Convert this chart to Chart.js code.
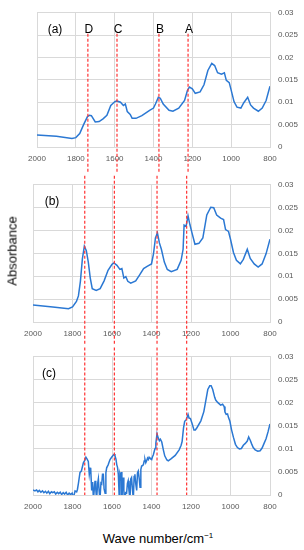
<!DOCTYPE html>
<html>
<head>
<meta charset="utf-8">
<script src="https://cdn.jsdelivr.net/npm/chart.js@4/dist/chart.umd.min.js"></script>
<style>
    body { margin: 0; background: #fff; }
    #wrap { position: relative; width: 304px; height: 550px; overflow: hidden; font-family: "Liberation Sans", Arial, sans-serif; }
    canvas { position: absolute; left: 0; }
    #ylab { position: absolute; left: 12px; top: 251px; transform: translate(-50%, -50%) rotate(-90deg); font-size: 13px; color: #000; white-space: nowrap; }
    #xlab { position: absolute; left: 158px; top: 538px; transform: translate(-50%, -50%); font-size: 13px; color: #000; white-space: nowrap; }
    #xlab sup { font-size: 8px; vertical-align: 5px; line-height: 0; }
</style>
</head>
<body>
<div id="wrap">
    <canvas id="panelA" width="304" height="172" style="top:0"></canvas>
    <canvas id="panelB" width="304" height="172" style="top:172px"></canvas>
    <canvas id="panelC" width="304" height="172" style="top:344px"></canvas>
    <div id="ylab">Absorbance</div>
    <div id="xlab">Wave number/cm<sup>−1</sup></div>
</div>
<script>
// tick labels and marker bands
const xTicks = [2000, 1800, 1600, 1400, 1200, 1000, 800];
const yTicks = [0, 0.005, 0.01, 0.015, 0.02, 0.025, 0.03];
const markerNames = ['D', 'C', 'B', 'A'];
const markerWaves = [1738, 1588, 1372, 1222];

// spectrum (a)
const waveA = [2000, 1900, 1820, 1800, 1780, 1760, 1740, 1730, 1720, 1700, 1680, 1660, 1640, 1620, 1600, 1590, 1570, 1555, 1545, 1535, 1520, 1510, 1490, 1460, 1420, 1400, 1390, 1375, 1365, 1350, 1320, 1300, 1270, 1240, 1225, 1215, 1200, 1185, 1160, 1140, 1120, 1100, 1085, 1070, 1050, 1035, 1025, 1010, 1000, 985, 970, 950, 935, 915, 900, 885, 860, 840, 820, 800];
const absA = [0.0027, 0.0024, 0.0019, 0.0021, 0.003, 0.005, 0.0068, 0.0071, 0.007, 0.0056, 0.0057, 0.0063, 0.0071, 0.0093, 0.0101, 0.0103, 0.01, 0.0093, 0.0096, 0.0079, 0.0073, 0.0064, 0.0064, 0.007, 0.0082, 0.0087, 0.0096, 0.0111, 0.0109, 0.0096, 0.0082, 0.008, 0.0087, 0.0104, 0.0127, 0.0134, 0.013, 0.012, 0.0123, 0.0139, 0.0171, 0.0187, 0.0182, 0.0166, 0.0163, 0.0166, 0.0149, 0.0144, 0.0127, 0.0101, 0.0089, 0.0087, 0.0099, 0.0111, 0.0094, 0.0087, 0.008, 0.0087, 0.0104, 0.0136];

// spectrum (b)
const waveB = [2000, 1900, 1820, 1800, 1780, 1770, 1760, 1750, 1740, 1730, 1720, 1710, 1700, 1680, 1660, 1640, 1620, 1600, 1590, 1575, 1560, 1550, 1540, 1530, 1520, 1505, 1480, 1460, 1440, 1420, 1400, 1390, 1380, 1370, 1360, 1350, 1335, 1320, 1300, 1270, 1250, 1240, 1235, 1225, 1215, 1205, 1195, 1180, 1160, 1140, 1120, 1100, 1085, 1070, 1050, 1035, 1025, 1010, 1000, 985, 970, 950, 935, 915, 900, 880, 860, 840, 820, 800];
const absB = [0.0037, 0.0033, 0.0029, 0.0033, 0.0045, 0.0057, 0.0089, 0.0138, 0.0166, 0.0156, 0.0131, 0.0096, 0.0073, 0.0069, 0.0073, 0.009, 0.0113, 0.0126, 0.0129, 0.0124, 0.0115, 0.0117, 0.0096, 0.0099, 0.0089, 0.0085, 0.009, 0.0103, 0.0117, 0.0122, 0.0127, 0.0149, 0.0184, 0.0195, 0.0173, 0.0159, 0.0131, 0.0115, 0.011, 0.0115, 0.0135, 0.0159, 0.0212, 0.0209, 0.0232, 0.0212, 0.0195, 0.017, 0.0172, 0.0184, 0.0234, 0.0251, 0.025, 0.0234, 0.0227, 0.0224, 0.0202, 0.0198, 0.0181, 0.0152, 0.0135, 0.0127, 0.0137, 0.0159, 0.0139, 0.0127, 0.012, 0.0127, 0.0149, 0.0181];

// spectrum (c)
const waveC = [2000, 1990, 1982, 1975, 1968, 1960, 1952, 1945, 1937, 1930, 1922, 1915, 1907, 1900, 1892, 1885, 1877, 1870, 1862, 1855, 1847, 1840, 1832, 1825, 1817, 1810, 1802, 1795, 1787, 1779, 1775, 1770, 1762, 1755, 1745, 1738, 1732, 1726, 1720, 1715, 1711, 1708, 1703, 1698, 1694, 1686, 1682, 1678, 1673, 1669, 1665, 1661, 1656, 1652, 1648, 1644, 1640, 1635, 1631, 1627, 1619, 1615, 1610, 1602, 1593, 1588, 1585, 1580, 1576, 1572, 1568, 1563, 1560, 1556, 1553, 1550, 1547, 1543, 1540, 1536, 1531, 1526, 1522, 1518, 1514, 1509, 1505, 1501, 1496, 1492, 1488, 1484, 1480, 1475, 1471, 1467, 1462, 1458, 1454, 1450, 1445, 1441, 1437, 1433, 1429, 1425, 1420, 1416, 1412, 1408, 1403, 1399, 1395, 1391, 1386, 1382, 1378, 1372, 1366, 1360, 1355, 1348, 1340, 1333, 1322, 1315, 1300, 1280, 1260, 1250, 1245, 1238, 1232, 1225, 1220, 1215, 1210, 1203, 1195, 1185, 1178, 1170, 1150, 1135, 1125, 1115, 1105, 1098, 1090, 1080, 1075, 1065, 1050, 1040, 1032, 1028, 1022, 1015, 1010, 1003, 995, 985, 975, 965, 955, 945, 935, 925, 915, 908, 900, 893, 885, 875, 862, 850, 840, 830, 820, 810, 800];
const absC = [0.0011, 0.0009, 0.0011, 0.0007, 0.001, 0.0006, 0.0009, 0.0005, 0.0008, 0.0004, 0.0008, 0.0003, 0.0007, 0.0005, 0.0007, 0.0002, 0.0006, 0.0003, 0.0006, 0.0001, 0.0005, 0.0002, 0.0006, 0.0, 0.0004, 0.0001, 0.0004, -0.0006, 0.0009, 0.0007, 0.0012, 0.0025, 0.0049, 0.0052, 0.007, 0.0075, 0.0082, 0.0078, 0.0073, 0.0045, 0.0058, 0.0059, 0.001, 0.0028, -0.001, 0.0031, 0.0012, -0.001, 0.0024, 0.0035, 0.0008, -0.001, 0.0026, 0.0024, 0.0045, 0.0045, 0.0013, 0.0004, 0.0048, 0.0059, 0.0066, 0.0071, 0.0077, 0.0082, 0.0087, 0.0089, 0.0085, 0.0078, 0.0066, 0.006, 0.0045, -0.001, 0.0045, 0.0038, 0.005, -0.002, 0.002, 0.0038, 0.001, -0.002, 0.0005, 0.0004, 0.0025, 0.0031, 0.001, -0.001, 0.0035, 0.0038, 0.001, -0.001, 0.004, 0.0045, 0.0025, 0.001, 0.0048, 0.0052, 0.0035, 0.0017, 0.0055, 0.0063, 0.0064, 0.0066, 0.0074, 0.0077, 0.007, 0.0074, 0.008, 0.0077, 0.0082, 0.008, 0.0079, 0.0077, 0.0083, 0.0087, 0.0095, 0.0101, 0.0112, 0.0133, 0.0124, 0.0118, 0.0121, 0.0115, 0.0098, 0.0085, 0.0076, 0.0074, 0.0079, 0.0086, 0.0098, 0.0108, 0.0116, 0.0145, 0.016, 0.0163, 0.0168, 0.0175, 0.0167, 0.0166, 0.0156, 0.0141, 0.0141, 0.0146, 0.0161, 0.0181, 0.0205, 0.0229, 0.0237, 0.0237, 0.0229, 0.0212, 0.0206, 0.0201, 0.0195, 0.0197, 0.0192, 0.018, 0.0175, 0.0176, 0.0168, 0.016, 0.0142, 0.0125, 0.011, 0.0103, 0.01, 0.0101, 0.0108, 0.0112, 0.0117, 0.0126, 0.0119, 0.0111, 0.0103, 0.0098, 0.0095, 0.0096, 0.0102, 0.0112, 0.0122, 0.0137, 0.0154];

const gridGray = '#d9d9d9';
const tickGray = '#595959';
const curveBlue = '#2b78d3';
const markerRed = '#ff3333';

// writes the panel tag and the band letters
const panelText = {
    id: 'panelText',
    afterDatasetsDraw(chart, args, opts) {
        const ctx = chart.ctx;
        const area = chart.chartArea;
        const x = chart.scales.x;
        ctx.save();
        ctx.fillStyle = '#000';
        ctx.font = '12px "Liberation Sans", Arial, sans-serif';
        ctx.textAlign = 'center';
        ctx.textBaseline = 'middle';
        ctx.fillText(opts.label, area.left + opts.labelDx, area.top + 16.5);
        if (opts.letters) {
            markerNames.forEach((name, i) => {
                ctx.fillText(name, x.getPixelForValue(markerWaves[i]) + 1, area.top + 17);
            });
        }
        ctx.restore();
    }
};

function makePanel(id, waves, abs, cfg) {
    const markerSets = markerWaves.map(w => ({
        data: [{ x: w, y: cfg.lineTop }, { x: w, y: cfg.lineBottom }],
        borderColor: markerRed,
        borderWidth: 1.2,
        borderDash: [3, 2],
        pointRadius: 0,
        clip: false,
        order: 0
    }));

    return new Chart(document.getElementById(id), {
        type: 'line',
        data: {
            datasets: [
                ...markerSets,
                {
                    data: waves.map((w, i) => ({ x: w, y: abs[i] })),
                    borderColor: curveBlue,
                    borderWidth: 1.5,
                    pointRadius: 0,
                    tension: 0,
                    order: 1
                }
            ]
        },
        options: {
            responsive: false,
            animation: false,
            events: [],
            layout: { padding: { top: cfg.top, left: cfg.left, right: 0, bottom: 0 } },
            plugins: {
                legend: { display: false },
                tooltip: { enabled: false },
                panelText: { label: cfg.label, labelDx: cfg.labelDx, letters: cfg.letters }
            },
            scales: {
                x: {
                    type: 'linear',
                    reverse: true,
                    min: 800,
                    max: 2000,
                    afterBuildTicks: (scale) => { scale.ticks = xTicks.map(v => ({ value: v })); },
                    afterFit: (scale) => { scale.height = cfg.xHeight; },
                    grid: { color: gridGray, drawTicks: false },
                    border: { color: gridGray },
                    ticks: {
                        color: tickGray,
                        padding: 7,
                        maxRotation: 0,
                        autoSkip: false,
                        callback: (v) => String(v),
                        font: { family: '"Liberation Sans", Arial, sans-serif', size: 8 }
                    }
                },
                y: {
                    position: 'right',
                    min: 0,
                    max: 0.03,
                    afterBuildTicks: (scale) => { scale.ticks = yTicks.map(v => ({ value: v })); },
                    afterFit: (scale) => { scale.width = 34; },
                    grid: { color: gridGray, drawTicks: false },
                    border: { color: gridGray },
                    ticks: {
                        color: tickGray,
                        padding: 8,
                        callback: (v) => String(+v.toFixed(3)),
                        font: { family: '"Liberation Sans", Arial, sans-serif', size: 8 }
                    }
                }
            }
        },
        plugins: [panelText]
    });
}

makePanel('panelA', waveA, absA, { top: 6.5, left: 37, xHeight: 25, label: '(a)', labelDx: 18, letters: true, lineTop: 0.0253, lineBottom: -0.006 });
makePanel('panelB', waveB, absB, { top: 9, left: 33, xHeight: 22, label: '(b)', labelDx: 19, letters: false, lineTop: 0.032, lineBottom: -0.005 });
makePanel('panelC', waveC, absC, { top: 8.5, left: 33, xHeight: 21, label: '(c)', labelDx: 16, letters: false, lineTop: 0.032, lineBottom: 0 });
</script>
</body>
</html>
